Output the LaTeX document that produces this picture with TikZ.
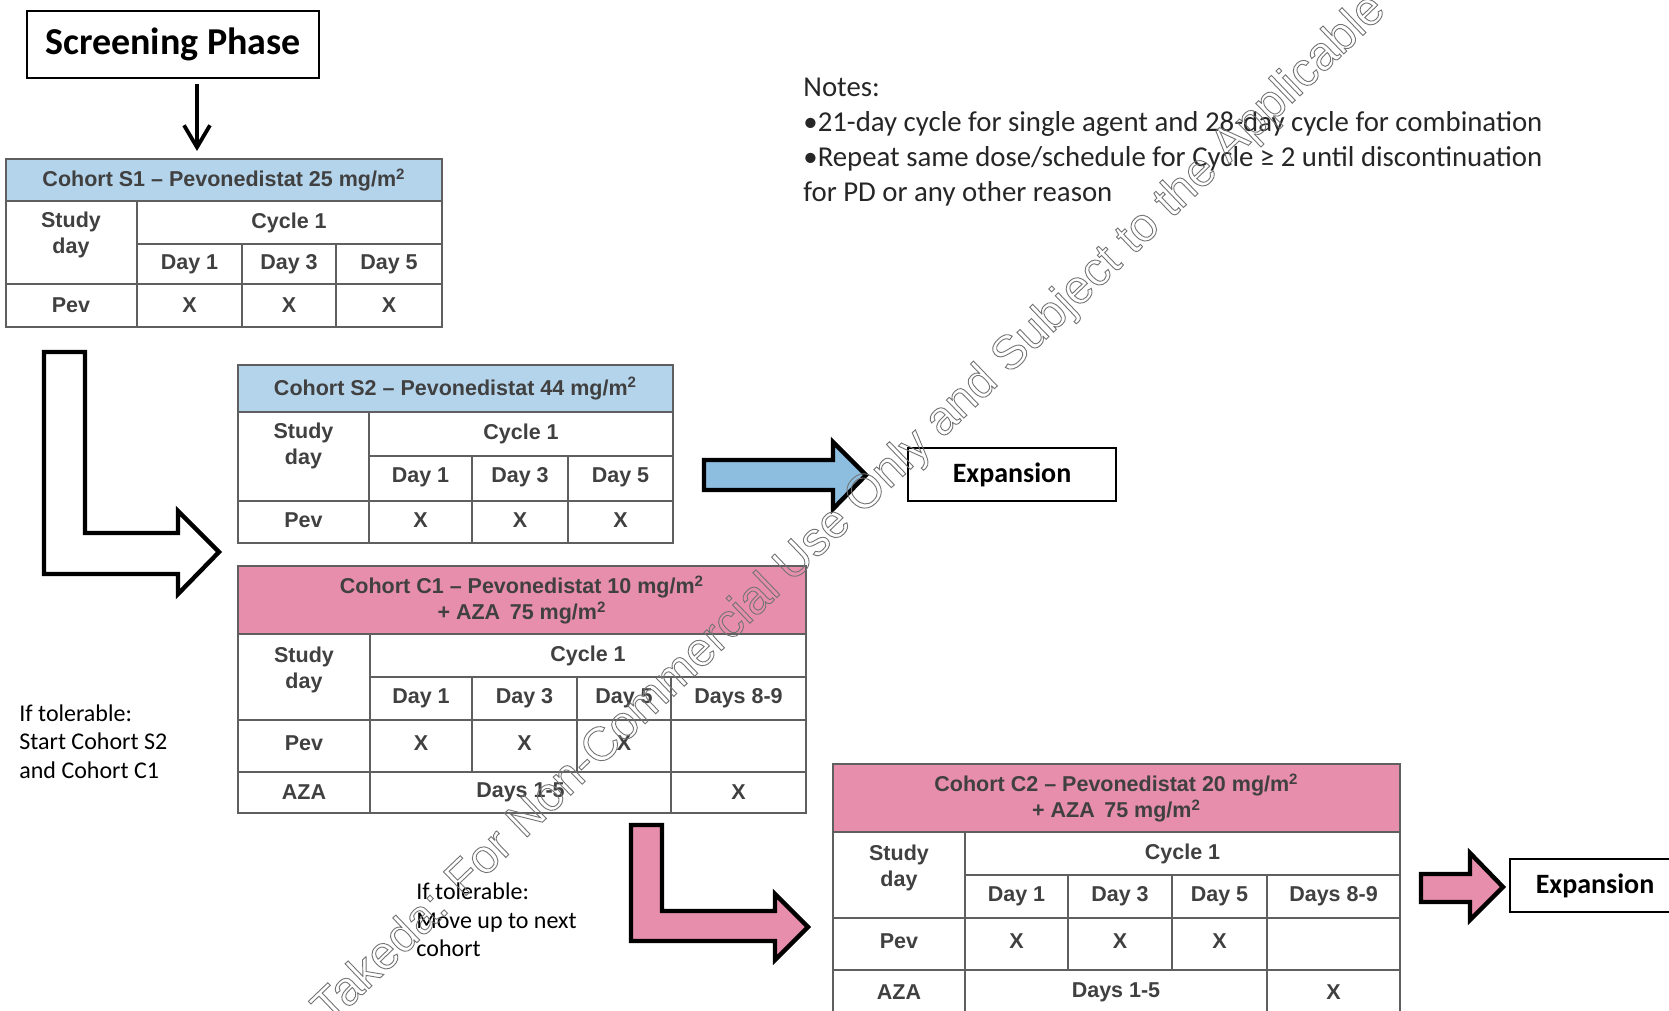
\documentclass[tikz,border=0pt]{standalone}
\usepackage{fontspec}
\setmainfont{Carlito}
\newfontfamily\tabfont{Liberation Sans}
\usetikzlibrary{arrows.meta}
\definecolor{headblue}{RGB}{180,212,236}
\definecolor{headpink}{RGB}{231,142,173}
\definecolor{arrowblue}{RGB}{141,190,224}
\definecolor{rulegray}{RGB}{95,95,95}
\definecolor{textgray}{RGB}{64,64,64}
\newcommand{\outlinetext}[1]{\special{pdf:literal direct 1 Tr 0.45 w}#1\special{pdf:literal direct 0 Tr}}

\begin{document}
\begin{tikzpicture}[x=0.5pt,y=-0.5pt]
  \tikzstyle{cell}=[font=\tabfont\bfseries\fontsize{10.75}{13}\selectfont, text=textgray, align=center, inner sep=0pt]
  \tikzstyle{head}=[cell, draw=rulegray, line width=1pt]
  \tikzstyle{grid}=[draw=rulegray, line width=1pt]
  \tikzstyle{phase}=[draw=black, line width=1.4pt, font=\bfseries, inner sep=0pt]
  \tikzstyle{block}=[draw=black, line width=2.2pt, line join=miter]
  \tikzstyle{side}=[font=\fontsize{12}{14.25}\selectfont, align=left, anchor=west, inner sep=0pt]
  \useasboundingbox (0,0) rectangle (1669,1011);
  \clip (0,0) rectangle (1669,1011);
    \node[phase, minimum width=146pt, minimum height=33.5pt, font=\bfseries\fontsize{19}{22}\selectfont] (screen) at (173,44.5) {Screening Phase};
    % cohort S1
    \node[head, fill=headblue, minimum width=218pt, minimum height=21pt] (s1head) at (224,180) {Cohort S1 – Pevonedistat 25 mg/m\textsuperscript{2}};
    \draw[grid] (6,201) rectangle (442,327) (137,201) -- (137,327) (137,244) -- (442,244) (6,284) -- (442,284)
                (242,244) -- (242,327) (336,244) -- (336,327);
    \node[cell] (s1study) at (71,235) {Study\\day};
    \node[cell] (s1cycle) at (289,222.5) {Cycle 1};
    \node[cell] (s1pev) at (71,305.5) {Pev};
    \foreach \x/\t [count=\i] in {189.5/Day 1, 289/Day 3, 389/Day 5}{
      \node[cell] (s1day\i) at (\x,264) {\t};
      \node[cell] (s1x\i) at (\x,305.5) {X};
    }
    \draw[-{Straight Barb[length=11pt,width=13pt]}, line width=1.9pt] ([xshift=12pt,yshift=-2.5pt]screen.south) -- ([xshift=-13.5pt,yshift=3.5pt]s1head.north);
    % cohort S2
    \node[head, fill=headblue, minimum width=217.5pt, minimum height=23.5pt] (s2head) at (455.5,388.5) {Cohort S2 – Pevonedistat 44 mg/m\textsuperscript{2}};
    \draw[grid] (238,412) rectangle (673,543) (369,412) -- (369,543) (369,456) -- (673,456) (238,501) -- (673,501)
                (472,456) -- (472,543) (568,456) -- (568,543);
    \node[cell] (s2study) at (303.5,445.5) {Study\\day};
    \node[cell] (s2cycle) at (521,434) {Cycle 1};
    \node[cell] (s2pev) at (303.5,520.5) {Pev};
    \foreach \x/\t [count=\i] in {420.5/Day 1, 520/Day 3, 620.5/Day 5}{
      \node[cell] (s2day\i) at (\x,477.5) {\t};
      \node[cell] (s2x\i) at (\x,520.5) {X};
    }
    % cohort C1
    \node[head, fill=headpink, minimum width=284pt, minimum height=34pt] (c1head) at (522,600) {Cohort C1 – Pevonedistat 10 mg/m\textsuperscript{2}\\+ AZA\, 75 mg/m\textsuperscript{2}};
    \draw[grid] (238,634) rectangle (806,813) (370,634) -- (370,813) (370,677) -- (806,677) (238,720) -- (806,720)
                (238,772) -- (806,772) (472,677) -- (472,772) (577,677) -- (577,772) (671,677) -- (671,813);
    \node[cell] (c1study) at (304,669.5) {Study\\day};
    \node[cell] (c1cycle) at (588,656) {Cycle 1};
    \node[cell] (c1pev) at (304,743) {Pev};
    \node[cell] (c1aza) at (304,792.5) {AZA};
    \foreach \x/\t [count=\i] in {421/Day 1, 524.5/Day 3, 624/Day 5}{
      \node[cell] (c1day\i) at (\x,698.5) {\t};
      \node[cell] (c1x\i) at (\x,743) {X};
    }
    \node[cell] (c1day4) at (738.5,698.5) {Days 8-9};
    \node[cell] (c1azadays) at (520.5,792.5) {Days 1-5};
    \node[cell] (c1azax) at (738.5,792.5) {X};
    % cohort C2
    \node[head, fill=headpink, minimum width=283.5pt, minimum height=34pt] (c2head) at (1116.5,798) {Cohort C2 – Pevonedistat 20 mg/m\textsuperscript{2}\\+ AZA\, 75 mg/m\textsuperscript{2}};
    \draw[grid] (833,832) rectangle (1400,1013) (965,832) -- (965,1013) (965,875) -- (1400,875) (833,918) -- (1400,918)
                (833,970) -- (1400,970) (1068,875) -- (1068,970) (1172,875) -- (1172,970) (1267,875) -- (1267,1013);
    \node[cell] (c2study) at (899,867.5) {Study\\day};
    \node[cell] (c2cycle) at (1182.5,854) {Cycle 1};
    \node[cell] (c2pev) at (899,941) {Pev};
    \node[cell] (c2aza) at (899,992) {AZA};
    \foreach \x/\t [count=\i] in {1016.5/Day 1, 1120/Day 3, 1219.5/Day 5}{
      \node[cell] (c2day\i) at (\x,896.5) {\t};
      \node[cell] (c2x\i) at (\x,941) {X};
    }
    \node[cell] (c2day4) at (1333.5,896.5) {Days 8-9};
    \node[cell] (c2azadays) at (1116,992) {Days 1-5};
    \node[cell] (c2azax) at (1333.5,992) {X};
    % expansion
    \node[phase, line width=1.2pt, minimum width=104pt, minimum height=26.5pt, font=\bfseries\fontsize{14}{16}\selectfont] (exp1) at (1012,474.5) {Expansion};
    \node[phase, line width=1.2pt, minimum width=92pt, minimum height=26.5pt, font=\bfseries\fontsize{14}{16}\selectfont] (exp2) at (1602,885.5) {\hspace*{-7pt}Expansion};
    % block arrows
    \draw[block, fill=white] (44,352) -- (85,352) -- (85,533) -- (178,533) -- (178,511) -- (219,552) -- (178,594) -- (178,574) -- (44,574) -- cycle;
    \draw[block, fill=arrowblue] (704,460) -- (833,460) -- (833,442) -- (866,475) -- (833,509) -- (833,490) -- (704,490) -- cycle;
    \draw[block, fill=headpink] (631,825) -- (662,825) -- (662,911) -- (775,911) -- (775,894) -- (808,927) -- (775,960) -- (775,941) -- (631,941) -- cycle;
    \draw[block, fill=headpink] (1421,874) -- (1470,874) -- (1470,853) -- (1503,887) -- (1470,920) -- (1470,902) -- (1421,902) -- cycle;
    % texts
    \node[side, font=\fontsize{14.4}{17.5}\selectfont, text=black!85] (notes) at (803,142) {Notes:\\•21-day cycle for single agent and 28-day cycle for combination\\•Repeat same dose/schedule for Cycle ≥ 2 until discontinuation\\for PD or any other reason};
    \node[side] (tol1) at (19,741.5) {If tolerable:\\Start Cohort S2\\and Cohort C1};
    \node[side] (tol2) at (416,920) {If tolerable:\\Move up to next\\cohort};
    % watermark
    \node[anchor=base west, rotate=43.8, inner sep=0pt, text=black!55, font=\tabfont\fontsize{23.8}{23.8}\selectfont] (wmark) at (330,1026) {\outlinetext{Takeda: For Non-Commercial Use Only and Subject to the Applicable}};
\end{tikzpicture}
\end{document}
